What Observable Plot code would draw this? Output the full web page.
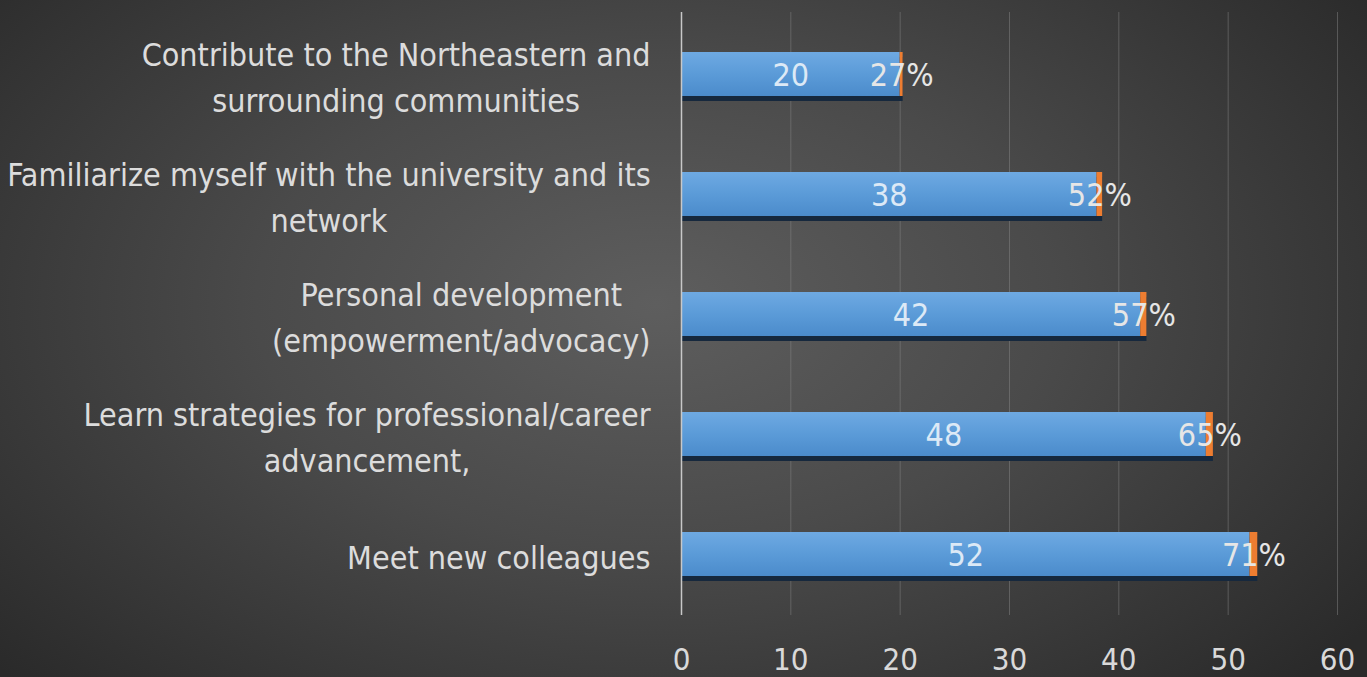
<!DOCTYPE html>
<html><head><meta charset="utf-8">
<script src="https://cdn.jsdelivr.net/npm/d3@7"></script>
<script src="https://cdn.jsdelivr.net/npm/@observablehq/plot@0.6"></script>
<style>
html,body{margin:0;padding:0;width:1367px;height:677px;overflow:hidden;
background:radial-gradient(ellipse 65% 80% at 48% 45%, #5e5e5e 0%, #4a4a4a 45%, #2a2a2a 100%);}
</style></head><body><div id="chart"></div>
<script>
const categories = [
  "Contribute to the Northeastern and\nsurrounding communities",
  "Familiarize myself with the university and its\nnetwork",
  "Personal development\n(empowerment/advocacy)",
  "Learn strategies for professional/career\nadvancement,",
  "Meet new colleagues"
];
const counts = [20, 38, 42, 48, 52];
const percents = [0.27, 0.52, 0.57, 0.65, 0.71];
const xTicks = [0, 10, 20, 30, 40, 50, 60];

const data = categories.map((c, i) => ({category: c, count: counts[i], pct: percents[i]}));
const FONT = "'Liberation Sans Narrow', 'DejaVu Sans Condensed', sans-serif";

const chart = Plot.plot({
  width: 1367, height: 677,
  marginLeft: 681, marginRight: 30, marginTop: 12, marginBottom: 62,
  style: {background: "transparent", color: "#d9d9d9", fontFamily: FONT, fontSize: "32px"},
  x: {domain: [0, 60], ticks: xTicks},
  y: {domain: categories, paddingInner: 0.636, paddingOuter: 0.315, label: null},
  marks: [
    Plot.gridX(xTicks, {stroke: "#8c8c8c", strokeOpacity: 0.45, strokeWidth: 1}),
    Plot.axisX({ticks: xTicks, tickSize: 0, tickPadding: 32, fontSize: 31, label: null, fill: "#d9d9d9"}),
    Plot.axisY({tickSize: 0, tickPadding: 31, fontSize: 32, lineHeight: 1.44, label: null, fill: "#dcdcdc"}),
    Plot.barX(data, {y: "category", x1: 0, x2: d => d.count + d.pct, fill: "#16283d", dy: 5}),
    Plot.barX(data, {y: "category", x1: 0, x2: "count", fill: "url(#blueGrad)"}),
    Plot.barX(data, {y: "category", x1: "count", x2: d => d.count + d.pct, fill: "#ed7d31"}),
    Plot.ruleX([0], {stroke: "#c8c8c8", strokeWidth: 1.5}),
    Plot.text(data, {y: "category", x: d => d.count / 2, text: d => String(d.count), fill: "#dce9f6", fontSize: 32, dy: 1}),
    Plot.text(data, {y: "category", x: d => d.count + d.pct / 2, text: d => Math.round(d.pct * 100) + "%", fill: "#e6e6e6", fontSize: 32, dy: 1})
  ]
});

// gradient definition for the blue bars
const ns = "http://www.w3.org/2000/svg";
const defs = document.createElementNS(ns, "defs");
defs.innerHTML = `<linearGradient id="blueGrad" x1="0" y1="0" x2="0" y2="1">
  <stop offset="0" stop-color="#6ea9e2"/><stop offset="0.5" stop-color="#5b9bd8"/><stop offset="1" stop-color="#4b8bcb"/></linearGradient>`;
chart.insertBefore(defs, chart.firstChild);
document.getElementById("chart").appendChild(chart);

// center wrapped lines of y-axis labels within their right-aligned block
chart.querySelectorAll('g[aria-label="y-axis tick label"] text').forEach(t => {
  const tsp = t.querySelectorAll("tspan");
  if (tsp.length < 2) return;
  const b = t.getBBox();
  const cx = b.x + b.width / 2;
  t.setAttribute("text-anchor", "middle");
  tsp.forEach(s => s.setAttribute("x", cx));
});
</script></body></html>
